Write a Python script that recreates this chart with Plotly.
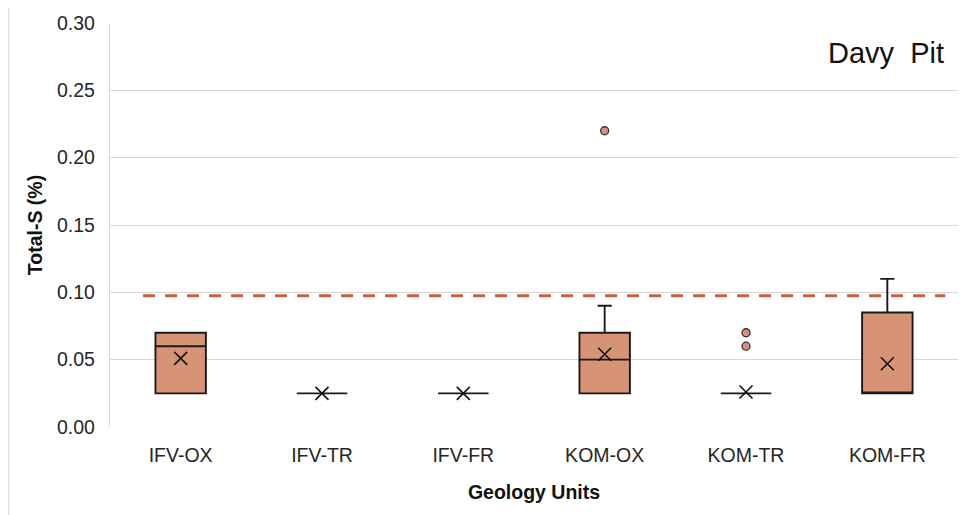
import plotly.graph_objects as go

categories = ["IFV-OX", "IFV-TR", "IFV-FR", "KOM-OX", "KOM-TR", "KOM-FR"]
q1 = [0.025, 0.025, 0.025, 0.025, 0.025, 0.025]
median = [0.060, 0.025, 0.025, 0.050, 0.025, 0.025]
q3 = [0.070, 0.025, 0.025, 0.070, 0.025, 0.085]
lowerfence = [0.025, 0.025, 0.025, 0.025, 0.025, 0.025]
upperfence = [0.070, 0.025, 0.025, 0.090, 0.025, 0.110]
means = [0.051, 0.025, 0.025, 0.054, 0.026, 0.047]
outlier_x = ["KOM-OX", "KOM-TR", "KOM-TR"]
outlier_y = [0.220, 0.070, 0.060]
threshold = 0.0975
y_ticks = [0.00, 0.05, 0.10, 0.15, 0.20, 0.25, 0.30]

BOX_FILL = "#D79376"
EDGE = "#1A1A1A"
FONT = "Liberation Sans, Arial, sans-serif"

W, H = 968, 507
L, R, T, B = 102, 18, 15, 88

fig = go.Figure()
fig.add_trace(go.Box(
    x=categories, q1=q1, median=median, q3=q3,
    lowerfence=lowerfence, upperfence=upperfence,
    fillcolor=BOX_FILL, line=dict(color=EDGE, width=1.9),
    whiskerwidth=0.28, boxpoints=False, showlegend=False,
))
fig.add_trace(go.Scatter(
    x=categories, y=means, mode="markers",
    marker=dict(symbol="x-thin", size=13, line=dict(color="#111111", width=1.6)),
    showlegend=False,
))
fig.add_trace(go.Scatter(
    x=outlier_x, y=outlier_y, mode="markers",
    marker=dict(symbol="circle", size=8, color=BOX_FILL, line=dict(color="#333333", width=1.3)),
    showlegend=False,
))

fig.add_shape(type="line", xref="paper", yref="y", x0=0.039, x1=0.985,
              y0=threshold, y1=threshold,
              line=dict(color="#C0653A", width=3, dash="12px,10px"))

fig.add_annotation(text="Davy\u00a0 Pit", xref="paper", yref="paper", x=0.986, y=0.925,
                   xanchor="right", yanchor="middle", showarrow=False,
                   font=dict(family=FONT, size=29, color="#111111"))

fig.update_layout(
    width=W, height=H,
    margin=dict(l=L, r=R, t=T, b=B, autoexpand=False),
    paper_bgcolor="white", plot_bgcolor="white",
    font=dict(family=FONT, size=19, color="#262626"),
    boxgap=0.49,
    xaxis=dict(
        automargin=False,
        showgrid=False, zeroline=False, showline=False, ticks="",
        ticklabelstandoff=14,
        tickfont=dict(size=19.5, color="#262626"),
        title=dict(text="<b>Geology Units</b>", font=dict(size=19.5, color="#111111"), standoff=20),
    ),
    yaxis=dict(
        automargin=False,
        range=[0, 0.30], tickvals=y_ticks, tickformat=".2f",
        showgrid=True, gridcolor="#D9D9D9", gridwidth=1.4,
        zeroline=False, showline=True, linecolor="#D9D9D9", linewidth=1.4, ticks="",
        ticklabelstandoff=10,
        tickfont=dict(size=19.5, color="#262626"),
        title=dict(text="<b>Total-S (%)</b>", font=dict(size=19.5, color="#111111"), standoff=9),
    ),
)

# frame lines at left and right edges of the image (paper coordinates)
pw = W - L - R
ph = H - T - B
for px in (0.6, 964):
    xp = (px - L) / pw
    fig.add_shape(type="line", xref="paper", yref="paper", x0=xp, x1=xp,
                  y0=-B / ph, y1=(ph + T) / ph,
                  line=dict(color="#D9D9D9", width=1.2))

fig.write_html("out.html")
